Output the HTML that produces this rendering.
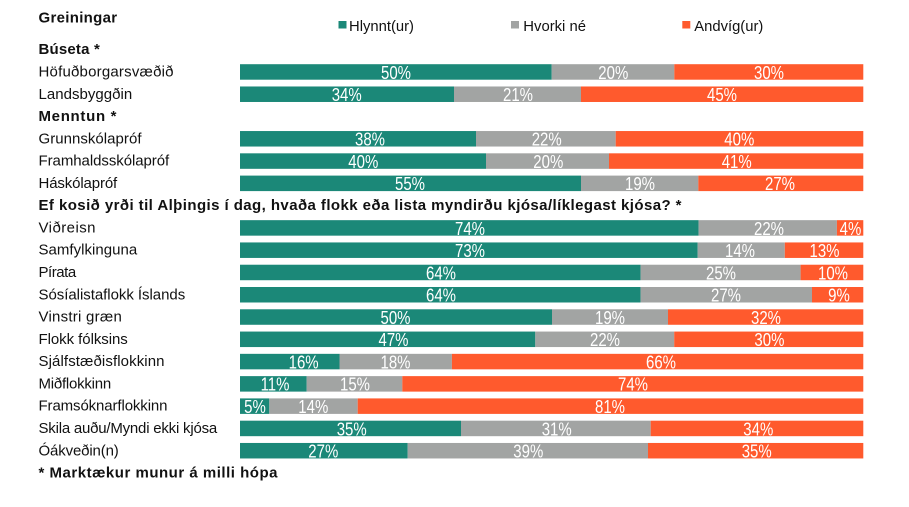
<!DOCTYPE html>
<html><head><meta charset="utf-8"><style>
html,body{margin:0;padding:0;background:#fff;}
svg{display:block;}
.l{font-family:"Liberation Sans",Arial,sans-serif;font-size:15px;fill:#111;}
.b{font-family:"Liberation Sans",Arial,sans-serif;font-size:15px;font-weight:bold;fill:#111;}
.lg{font-family:"Liberation Sans",Arial,sans-serif;font-size:15px;fill:#111;}
.v{font-family:"Liberation Sans",Arial,sans-serif;font-size:18.5px;fill:#fff;text-anchor:middle;}
</style></head><body>
<svg width="909" height="507" viewBox="0 0 909 507" xmlns="http://www.w3.org/2000/svg">
<rect width="909" height="507" fill="#fff"/>
<text class="b" x="38.5" y="22.7" textLength="78.6" lengthAdjust="spacing">Greiningar</text>
<rect x="338.5" y="21" width="8" height="7.5" fill="#1b8878"/>
<text class="lg" x="349" y="31" textLength="65" lengthAdjust="spacingAndGlyphs">Hlynnt(ur)</text>
<rect x="511" y="21" width="8" height="7.5" fill="#a2a4a3"/>
<text class="lg" x="523.3" y="31" textLength="62.7" lengthAdjust="spacingAndGlyphs">Hvorki né</text>
<rect x="682.3" y="21" width="8" height="7.5" fill="#ff5a2d"/>
<text class="lg" x="694.3" y="31" textLength="69" lengthAdjust="spacingAndGlyphs">Andvíg(ur)</text>

<text class="b" x="38.5" y="54" textLength="61.3" lengthAdjust="spacing">Búseta *</text>
<text class="b" x="38.5" y="120.9" textLength="78" lengthAdjust="spacing">Menntun *</text>
<text class="b" x="38.5" y="210" textLength="643" lengthAdjust="spacing">Ef kosið yrði til Alþingis í dag, hvaða flokk eða lista myndirðu kjósa/líklegast kjósa? *</text>
<text class="b" x="38.5" y="477.5" textLength="239" lengthAdjust="spacing">* Marktækur munur á milli hópa</text>

<g id="rows"></g>
</svg>
<script>
var rows=[
[0,"Höfuðborgarsvæðið",135,551.7,674.3,["50%",396],["20%",613.3],["30%",769]],
[1,"Landsbyggðin",93.7,454,581,["34%",346.7],["21%",518],["45%",722]],
[3,"Grunnskólapróf",103,476,615.7,["38%",370],["22%",546.7],["40%",739.3]],
[4,"Framhaldsskólapróf",130.7,486,609,["40%",363.3],["20%",548.3],["41%",736.7]],
[5,"Háskólapróf",78.7,581,698.3,["55%",410],["19%",640],["27%",780]],
[7,"Viðreisn",57,698.6,836.9,["74%",470],["22%",769],["4%",850.5]],
[8,"Samfylkinguna",98.7,697.7,784.8,["73%",470],["14%",740],["13%",824.5]],
[9,"Pírata",37.7,640.6,800.6,["64%",441],["25%",721],["10%",833]],
[10,"Sósíalistaflokk Íslands",146.7,640.6,812,["64%",441],["27%",726],["9%",839]],
[11,"Vinstri græn",83.3,552,668,["50%",395.5],["19%",610],["32%",766]],
[12,"Flokk fólksins",89.3,535.3,674.2,["47%",393.5],["22%",605],["30%",769.4]],
[13,"Sjálfstæðisflokkinn",126,339.5,451.9,["16%",303.6],["18%",395.5],["66%",661]],
[14,"Miðflokkinn",72.7,306.7,402.3,["11%",275],["15%",355],["74%",633]],
[15,"Framsóknarflokkinn",129,269.3,357.7,["5%",255],["14%",313.3],["81%",610]],
[16,"Skila auðu/Myndi ekki kjósa",178.7,461,650.7,["35%",351.7],["31%",556.7],["34%",758.3]],
[17,"Óákveðin(n)",80.3,407.7,648,["27%",323.3],["39%",528.3],["35%",756.7]]
];
var NS="http://www.w3.org/2000/svg",g=document.getElementById("rows");
function el(t,a,txt){var e=document.createElementNS(NS,t);for(var k in a)e.setAttribute(k,a[k]);if(txt!=null)e.textContent=txt;g.appendChild(e);return e;}
rows.forEach(function(r){
 var top=64.2+22.28*r[0],h=15.5;
 el("text",{"class":"l",x:38.5,y:(top+12.3).toFixed(1),textLength:r[2],lengthAdjust:"spacing"},r[1]);
 el("rect",{x:240,y:top,width:r[3]-240,height:h,fill:"#1b8878"});
 el("rect",{x:r[3],y:top,width:r[4]-r[3],height:h,fill:"#a2a4a3"});
 el("rect",{x:r[4],y:top,width:863.3-r[4],height:h,fill:"#ff5a2d"});
 [r[5],r[6],r[7]].forEach(function(v){
  el("text",{"class":"v",transform:"translate("+v[1]+","+(top+14.6).toFixed(1)+") scale(0.81,1)",x:0,y:0},v[0]);
 });
});
</script>
</body></html>
